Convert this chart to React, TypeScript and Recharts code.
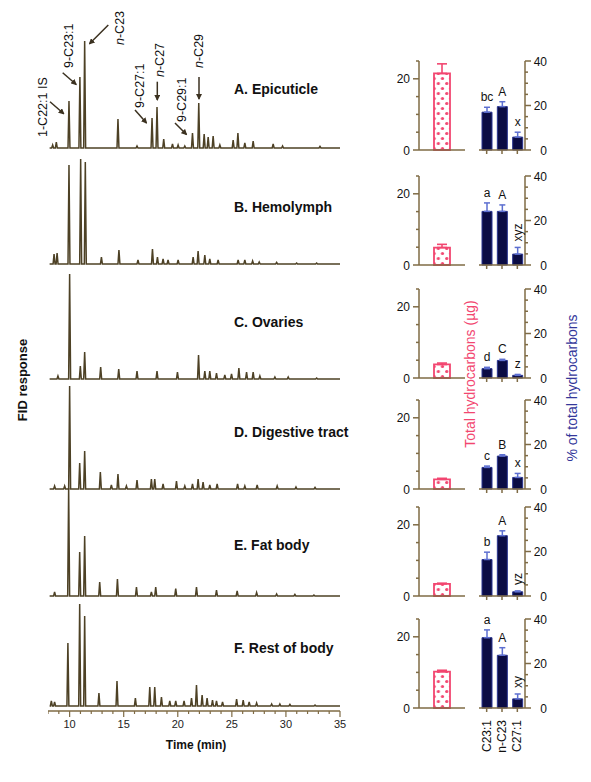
import React from "react";
import { LineChart, Line, XAxis, YAxis, BarChart, Bar, ErrorBar, LabelList } from "recharts";

const FONT = "'Liberation Sans', Arial, Helvetica, sans-serif";
const AXIS = "#7f6b45";
const TRACE = "#4d4125";
const RED = "#f24670";
const NAVY = "#0b0c44";
const NAVY_ERR = "#5d6fd0";
const NAVY_TEXT = "#34379a";

// chromatogram peaks: [retention time (min), response]
const epicuticlePeaks = [[8.43,3],[8.77,6],[9.94,47],[10.95,71],[11.39,107],[14.47,29],[16.23,2],[17.62,30],[18.08,41],[18.7,9],[19.51,4],[20.03,3],[20.65,2],[21.36,15],[21.94,45],[22.44,14],[22.81,11],[23.27,12],[23.89,3],[25.12,8],[25.56,15],[26.2,5],[26.97,7],[28.82,4],[29.69,2],[33.15,1.5]];
const hemolymphPeaks = [[8.56,10],[8.84,11],[9.94,99],[11.02,105],[11.45,102],[12.94,7],[14.56,14],[16.32,4],[17.66,15],[18.12,7],[18.64,5],[19.1,4],[20.03,4],[21.42,7],[21.88,13],[22.5,9],[22.96,5],[23.73,4],[25.58,4],[26.2,4],[26.92,3],[27.53,2],[29.14,1.5],[30.99,1],[32.84,1]];
const ovariesPeaks = [[8.92,3],[10.0,105],[10.99,13],[11.39,27],[12.87,12],[14.54,10],[16.23,8],[18.08,8],[19.97,7],[21.92,24],[22.5,8],[22.96,8],[23.58,6],[24.35,4],[24.97,5],[25.65,11],[26.36,7],[26.97,7],[27.59,3],[28.98,2],[30.21,2],[32.84,1]];
const digestivePeaks = [[8.61,3],[9.54,3],[10.0,103],[10.93,26],[11.39,38],[12.84,17],[13.86,4],[14.47,15],[15.25,3],[16.23,9],[17.56,10],[17.87,10],[18.64,5],[19.88,8],[20.65,3],[21.36,5],[21.88,10],[22.34,7],[22.96,4],[23.64,5],[25.53,5],[26.2,3],[27.34,4],[29.19,3],[30.93,2],[32.69,1.5]];
const fatBodyPeaks = [[8.61,4],[9.91,108],[10.93,44],[11.39,60],[12.78,14],[14.42,17],[16.18,9],[17.56,4],[17.96,9],[19.81,7.5],[21.73,9],[23.58,6],[25.49,5],[27.29,3.5],[29.14,2],[30.83,1.5],[32.59,1]];
const restPeaks = [[8.31,5],[8.61,4],[9.84,63],[10.93,102],[11.39,90],[12.71,13],[14.38,25],[16.08,8],[17.41,19],[17.87,19],[18.49,9],[19.26,5],[19.81,5],[20.58,5],[21.27,8],[21.73,21],[22.25,11],[22.71,8],[23.21,6],[23.58,5],[24.14,4],[25.44,7],[26.05,6],[26.6,4],[27.29,3],[28.68,2],[29.44,2],[30.37,1.5],[32.69,1]];

const tissues = ["A. Epicuticle", "B. Hemolymph", "C. Ovaries", "D. Digestive tract", "E. Fat body", "F. Rest of body"];
const timeTicks = [8,9,10,11,12,13,14,15,16,17,18,19,20,21,22,23,24,25,26,27,28,29,30,31,32,33,34,35];

// bar panels
const categories = ["C23:1", "n-C23", "C27:1"];
const totalHC = [21.5, 4.9, 3.8, 2.7, 3.4, 10.2];
const totalHCErr = [2.7, 0.9, 0.4, 0.3, 0.2, 0.4];
const pctC23_1 = [17, 24.1, 4.2, 9.7, 16.4, 31.6];
const pctC23_1Err = [2.2, 3.8, 0.6, 0.6, 3.3, 3.5];
const pctNC23 = [19.5, 24.1, 7.9, 14.8, 27.1, 23.7];
const pctNC23Err = [2.2, 2.9, 0.5, 0.6, 2.2, 3.4];
const pctC27_1 = [5.8, 4.9, 1.2, 5.2, 1.9, 4.1];
const pctC27_1Err = [2.2, 3.0, 0.4, 1.8, 0.4, 2.2];
const lettersC23_1 = ["bc", "a", "d", "c", "b", "a"];
const lettersNC23 = ["A", "A", "C", "B", "A", "A"];
const lettersC27_1 = ["x", "xyz", "z", "x", "yz", "xy"];
const leftTicks = [0, 5, 10, 15, 20, 25];
const rightTicks = [0, 5, 10, 15, 20, 25, 30, 35, 40];

const traceBase = [148.3, 264.3, 378.7, 489.3, 596, 706];
const barBase = [149.7, 265, 377.7, 489, 596, 708.3];
const PH = 89;
const MT = 20;

function traceData(peaks: number[][]) {
  const pts: { t: number; v: number }[] = [{ t: 8.15, v: 0 }];
  peaks.forEach(([t, h]) => {
    pts.push({ t: t - 0.09, v: 0 }, { t, v: h }, { t: t + 0.09, v: 0 });
  });
  pts.push({ t: 35, v: 0 });
  return pts;
}

const TimeTick = (p: any) => {
  const v = p.payload.value;
  const major = v % 5 === 0;
  return (
    <g>
      <line x1={p.x} x2={p.x} y1={p.y} y2={p.y + (major ? 6 : 3)} stroke={AXIS} strokeWidth={1.2} />
      {major && (
        <text x={p.x} y={p.y + 17} textAnchor="middle" fontSize={11} fill="#222" fontFamily={FONT}>{v}</text>
      )}
    </g>
  );
};

function Chromatogram({ peaks, baseline, showAxis }: { peaks: number[][]; baseline: number; showAxis: boolean }) {
  const below = showAxis ? 5 : 2;
  const axisH = showAxis ? 30 : 0;
  const right = showAxis ? 12 : 0;
  return (
    <div style={{ position: "absolute", left: 48, top: baseline - 120 }}>
      <LineChart width={292 + right} height={120 + below + axisH} data={traceData(peaks)} margin={{ top: 0, right, bottom: 0, left: 0 }}>
        <XAxis
          type="number"
          dataKey="t"
          domain={[8, 35]}
          allowDataOverflow
          ticks={timeTicks}
          interval={0}
          hide={!showAxis}
          height={axisH}
          axisLine={{ stroke: AXIS, strokeWidth: 1.5 }}
          tickLine={false}
          tickSize={0}
          tickMargin={0}
          tick={<TimeTick />}
        />
        <YAxis hide domain={[-below, 120]} allowDataOverflow />
        <Line type="linear" dataKey="v" stroke={TRACE} strokeWidth={1.5} dot={false} isAnimationActive={false} />
      </LineChart>
    </div>
  );
}

const LeftTick = (p: any) => {
  const v = p.payload.value;
  const major = v === 0 || v === 20;
  return (
    <g>
      <line x1={p.x} x2={p.x - (major ? 6 : 3)} y1={p.y} y2={p.y} stroke={AXIS} strokeWidth={1.5} />
      {major && (
        <text x={p.x - 9} y={p.y + 4.5} textAnchor="end" fontSize={12} fill="#111" fontFamily={FONT}>{v}</text>
      )}
    </g>
  );
};

const RightTick = (p: any) => {
  const v = p.payload.value;
  const major = v % 20 === 0;
  return (
    <g>
      <line x1={p.x} x2={p.x + (major ? 6 : 3)} y1={p.y} y2={p.y} stroke={AXIS} strokeWidth={1.5} />
      {major && (
        <text x={p.x + 22} y={p.y + 4.5} textAnchor="end" fontSize={12} fill="#111" fontFamily={FONT}>{v}</text>
      )}
    </g>
  );
};

const CatTick = (p: any) => (
  <g>
    <line x1={p.x} x2={p.x} y1={p.y} y2={p.y + 4} stroke={AXIS} strokeWidth={1.5} />
    {p.showLabel && (
      <text
        transform={`rotate(-90 ${p.x + 4} ${p.y + 12})`}
        x={p.x + 4}
        y={p.y + 12}
        textAnchor="end"
        fontSize={12}
        fill="#111"
        fontFamily={FONT}
      >
        {p.payload.value}
      </text>
    )}
  </g>
);

function TotalBar({ i }: { i: number }) {
  const data = [{ name: "total", v: totalHC[i], e: [0, totalHCErr[i]] }];
  const id = `dots${i}`;
  return (
    <div style={{ position: "absolute", left: 389, top: barBase[i] - PH - MT }}>
      <BarChart width={76} height={MT + PH + 6} data={data} margin={{ top: MT, right: 0, bottom: 0, left: 0 }}>
        <defs>
          <pattern id={id} width={8.4} height={10} patternUnits="userSpaceOnUse">
            <rect width={8.4} height={10} fill="#fff" />
            <circle cx={7.3} cy={2.5} r={1.6} fill={RED} />
            <circle cx={-1.1} cy={2.5} r={1.6} fill={RED} />
            <circle cx={3.1} cy={7.5} r={1.6} fill={RED} />
          </pattern>
        </defs>
        <XAxis dataKey="name" height={6} axisLine={{ stroke: AXIS, strokeWidth: 1.5 }} tickLine={false} tick={false} />
        <YAxis
          domain={[0, 25]}
          ticks={leftTicks}
          tickCount={6}
          interval={0}
          width={30}
          axisLine={{ stroke: AXIS, strokeWidth: 1.5 }}
          tickLine={false}
          tickSize={0}
          tickMargin={0}
          tick={<LeftTick />}
        />
        <Bar dataKey="v" barSize={16} fill={`url(#${id})`} stroke={RED} strokeWidth={1.8} isAnimationActive={false}>
          <ErrorBar dataKey="e" width={5} stroke={RED} strokeWidth={1.6} />
        </Bar>
      </BarChart>
    </div>
  );
}

function PctBars({ i }: { i: number }) {
  const vals = [pctC23_1[i], pctNC23[i], pctC27_1[i]];
  const errs = [pctC23_1Err[i], pctNC23Err[i], pctC27_1Err[i]];
  const labs = [lettersC23_1[i], lettersNC23[i], lettersC27_1[i]];
  const data = categories.map((c, k) => ({ name: c, v: vals[k], e: [0, errs[k]], lab: labs[k] }));
  const last = i === 5;
  const axisH = last ? 50 : 8;

  const renderLetter = (p: any) => {
    const idx = p.index;
    const perUnit = Number(p.height) / data[idx].v;
    const top = Number(p.y) - data[idx].e[1] * perUnit;
    const cx = Number(p.x) + Number(p.width) / 2;
    const txt = String(p.value);
    if (idx === 2 && txt.length > 1) {
      return (
        <text
          transform={`rotate(-90 ${cx + 4.5} ${top - 6})`}
          x={cx + 4.5}
          y={top - 6}
          textAnchor="start"
          fontSize={12}
          fill="#111"
          fontFamily={FONT}
        >
          {txt}
        </text>
      );
    }
    return (
      <text x={cx} y={top - 6} textAnchor="middle" fontSize={12} fill="#111" fontFamily={FONT}>
        {txt}
      </text>
    );
  };

  return (
    <div style={{ position: "absolute", left: 479, top: barBase[i] - PH - MT }}>
      <BarChart width={76} height={MT + PH + axisH} data={data} margin={{ top: MT, right: 0, bottom: 0, left: 0 }}>
        <XAxis
          dataKey="name"
          height={axisH}
          interval={0}
          axisLine={{ stroke: AXIS, strokeWidth: 1.5 }}
          tickLine={false}
          tickSize={0}
          tickMargin={0}
          tick={<CatTick showLabel={last} />}
        />
        <YAxis
          orientation="right"
          domain={[0, 40]}
          ticks={rightTicks}
          tickCount={9}
          interval={0}
          width={30}
          axisLine={{ stroke: AXIS, strokeWidth: 1.5 }}
          tickLine={false}
          tickSize={0}
          tickMargin={0}
          tick={<RightTick />}
        />
        <Bar dataKey="v" barSize={10} fill={NAVY} stroke="#2b3590" strokeWidth={1} isAnimationActive={false}>
          <ErrorBar dataKey="e" width={3} stroke={NAVY_ERR} strokeWidth={1.5} />
          <LabelList dataKey="lab" content={renderLetter} />
        </Bar>
      </BarChart>
    </div>
  );
}

const RotLabel = ({ cx, bottom, children }: { cx: number; bottom: number; children: React.ReactNode }) => (
  <text
    transform={`rotate(-90 ${cx + 4.5} ${bottom})`}
    x={cx + 4.5}
    y={bottom}
    textAnchor="start"
    fontSize={12.5}
    fill="#111"
    fontFamily={FONT}
  >
    {children}
  </text>
);

export default function App() {
  const allPeaks = [epicuticlePeaks, hemolymphPeaks, ovariesPeaks, digestivePeaks, fatBodyPeaks, restPeaks];
  const labelY = [94, 211.7, 327, 436.7, 550, 653.3];
  const arrows = [
    [50, 101.7, 63.8, 113.8],
    [62.7, 72.7, 76.2, 84.5],
    [108.3, 25, 89.5, 43.8],
    [135, 110, 146.5, 123],
    [157.3, 81.7, 157.3, 100],
    [175, 123, 186.5, 134.5],
    [199, 77, 199, 99],
  ];
  return (
    <div style={{ position: "relative", width: 591, height: 782, margin: -8, background: "#fff", fontFamily: FONT }}>
      {allPeaks.map((pk, i) => (
        <Chromatogram key={i} peaks={pk} baseline={traceBase[i]} showAxis={i === 5} />
      ))}
      {tissues.map((_, i) => (
        <TotalBar key={`t${i}`} i={i} />
      ))}
      {tissues.map((_, i) => (
        <PctBars key={`p${i}`} i={i} />
      ))}
      <svg width={591} height={782} style={{ position: "absolute", left: 0, top: 0, pointerEvents: "none" }}>
        <defs>
          <marker id="arr" markerWidth={6} markerHeight={6} refX={5} refY={3} orient="auto" markerUnits="userSpaceOnUse">
            <path d="M0,0 L6,3 L0,6 z" fill="#3b3120" />
          </marker>
        </defs>
        {arrows.map((a, k) => (
          <line key={k} x1={a[0]} y1={a[1]} x2={a[2]} y2={a[3]} stroke="#3b3120" strokeWidth={1.5} markerEnd="url(#arr)" />
        ))}
        <RotLabel cx={42.3} bottom={137}>1-C22:1 IS</RotLabel>
        <RotLabel cx={68.5} bottom={68}>9-C23:1</RotLabel>
        <RotLabel cx={119} bottom={45}>
          <tspan fontStyle="italic">n</tspan>-C23
        </RotLabel>
        <RotLabel cx={139} bottom={108}>9-C27:1</RotLabel>
        <RotLabel cx={159} bottom={77}>
          <tspan fontStyle="italic">n</tspan>-C27
        </RotLabel>
        <RotLabel cx={181} bottom={122}>9-C29:1</RotLabel>
        <RotLabel cx={198.5} bottom={68}>
          <tspan fontStyle="italic">n</tspan>-C29
        </RotLabel>
        {tissues.map((t, i) => (
          <text key={t} x={234} y={labelY[i]} fontSize={14} fontWeight="bold" fill="#111" fontFamily={FONT}>
            {t}
          </text>
        ))}
        <text transform="rotate(-90 26.5 380)" x={26.5} y={380} textAnchor="middle" fontSize={13} fontWeight="bold" fill="#111" fontFamily={FONT}>
          FID response
        </text>
        <text x={196} y={749} textAnchor="middle" fontSize={12} fontWeight="bold" fill="#111" fontFamily={FONT}>
          Time (min)
        </text>
        <text transform="rotate(-90 475 374)" x={475} y={374} textAnchor="middle" fontSize={14} fill={RED} fontFamily={FONT}>
          Total hydrocarbons (µg)
        </text>
        <text transform="rotate(-90 576.5 388)" x={576.5} y={388} textAnchor="middle" fontSize={14} fill={NAVY_TEXT} fontFamily={FONT}>
          % of total hydrocarbons
        </text>
      </svg>
    </div>
  );
}
